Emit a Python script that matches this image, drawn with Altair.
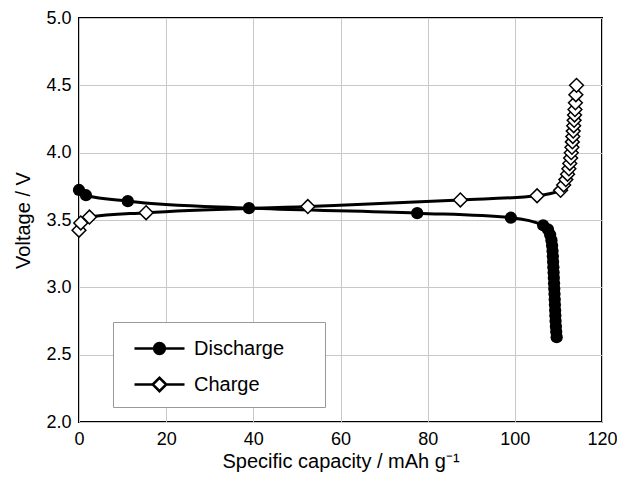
import altair as alt
import pandas as pd

# ---- data ----
dis_cap = [0.0, 1.6, 11.2, 39.0, 77.6, 99.1, 106.5,
           107.6, 108.1, 108.4, 108.55, 108.65, 108.72, 108.78, 108.84, 108.9, 108.95,
           109.0, 109.05, 109.1, 109.15, 109.2, 109.25, 109.3, 109.35, 109.42, 109.5, 109.6]
dis_v = [3.723, 3.684, 3.64, 3.588, 3.551, 3.517, 3.461,
         3.43, 3.39, 3.35, 3.31, 3.27, 3.23, 3.19, 3.15, 3.11, 3.07,
         3.03, 2.99, 2.95, 2.91, 2.87, 2.83, 2.79, 2.75, 2.71, 2.67, 2.63]

chg_cap = [0.0, 0.4, 2.4, 15.4, 52.5, 87.5, 105.1, 110.5, 111.2, 111.7, 112.1, 112.4,
           112.6, 112.8, 112.95, 113.1, 113.2, 113.3, 113.4, 113.5, 113.6, 113.7,
           113.8, 113.9, 114.0, 114.15]
chg_v = [3.424, 3.478, 3.522, 3.554, 3.60, 3.649, 3.68, 3.72, 3.76, 3.80, 3.84, 3.88,
         3.92, 3.96, 4.00, 4.04, 4.08, 4.12, 4.16, 4.20, 4.24, 4.28, 4.32, 4.37,
         4.43, 4.50]

series_names = ["Discharge", "Charge"]
x_ticks = [0, 20, 40, 60, 80, 100, 120]
y_ticks = [2.0, 2.5, 3.0, 3.5, 4.0, 4.5, 5.0]

dis = pd.DataFrame({"cap": dis_cap, "v": dis_v, "series": "Discharge"})
chg = pd.DataFrame({"cap": chg_cap, "v": chg_v, "series": "Charge"})
leg = pd.DataFrame({"series": series_names})

FONT = "Liberation Sans"

# legend glyphs: line segment with a marker in the middle (unit coords, scaled by sqrt(size)/2)
L = 1.667
r = 0.36
k = 0.5523 * r
circle = (f"M{-r},0C{-r},{-k} {-k},{-r} 0,{-r}C{k},{-r} {r},{-k} {r},0"
          f"C{r},{k} {k},{r} 0,{r}C{-k},{r} {-r},{k} {-r},0Z")
path_d = f"M{-L},0H{-r}M{r},0H{L}" + circle
dm = 0.45
path_c = f"M{-L},0H{-dm}M{dm},0H{L}M{-dm},0L0,{-dm}L{dm},0L0,{dm}Z"

x = alt.X("cap:Q",
          scale=alt.Scale(domain=[0, 120], nice=False),
          axis=alt.Axis(values=x_ticks, title="Specific capacity / mAh g⁻¹",
                        labelPadding=8, titlePadding=3))
y = alt.Y("v:Q",
          scale=alt.Scale(domain=[2, 5], nice=False, zero=False),
          axis=alt.Axis(values=y_ticks, format=".1f", title="Voltage / V",
                        labelPadding=8, titlePadding=12))

line_c = alt.Chart(chg).mark_line(color="black", strokeWidth=3, interpolate="monotone").encode(x=x, y=y)
line_d = alt.Chart(dis).mark_line(color="black", strokeWidth=3, interpolate="monotone").encode(x=x, y=y)
pts_c = alt.Chart(chg).mark_point(shape="diamond", filled=True, fill="white", stroke="black",
                                   strokeWidth=1.5, size=190, opacity=1).encode(x=x, y=y)
pts_d = alt.Chart(dis).mark_point(shape="circle", filled=True, color="black",
                                   size=150, opacity=1).encode(x=x, y=y)

BLANK = "\u2800"
legend_kw = dict(title=None, orient="none", legendX=34, legendY=304,
                 labelExpr="datum.label + '" + BLANK * 2 + "'",
                 symbolOpacity=1, symbolSize=900, symbolStrokeColor="black",
                 symbolStrokeWidth=2.5)
legend_layer = alt.Chart(leg).mark_point(size=0, filled=True).encode(
    shape=alt.Shape("series:N", scale=alt.Scale(domain=series_names, range=[path_d, path_c]),
                    legend=alt.Legend(**legend_kw)),
    fill=alt.Fill("series:N", scale=alt.Scale(domain=series_names, range=["black", "white"]),
                  legend=alt.Legend(**legend_kw)),
    stroke=alt.Stroke("series:N", scale=alt.Scale(domain=series_names, range=["black", "black"]),
                      legend=alt.Legend(**legend_kw)),
)

chart = alt.layer(line_c, line_d, pts_c, pts_d, legend_layer).properties(
    width=523, height=404,
    autosize=alt.AutoSizeParams(type="none"),
    padding={"left": 71, "top": 10, "right": 15, "bottom": 51},
    background="white",
).configure_view(
    stroke="black", strokeWidth=2
).configure_axis(
    grid=True, gridColor="#c8c8c8", gridWidth=1,
    domain=False, ticks=False, labelFlush=False,
    labelFont=FONT, labelFontSize=18, labelColor="black",
    titleFont=FONT, titleFontSize=20, titleFontWeight="normal", titleColor="black",
).configure_legend(
    padding=10, strokeColor="#999999", fillColor="white",
    symbolSize=900, symbolStrokeWidth=2.5, symbolStrokeColor="black", symbolOffset=20,
    labelFont=FONT, labelFontSize=20, labelColor="black", labelOffset=18,
    rowPadding=9, cornerRadius=0,
)

chart.save("out.html", embed_options={"renderer": "svg", "actions": False})
